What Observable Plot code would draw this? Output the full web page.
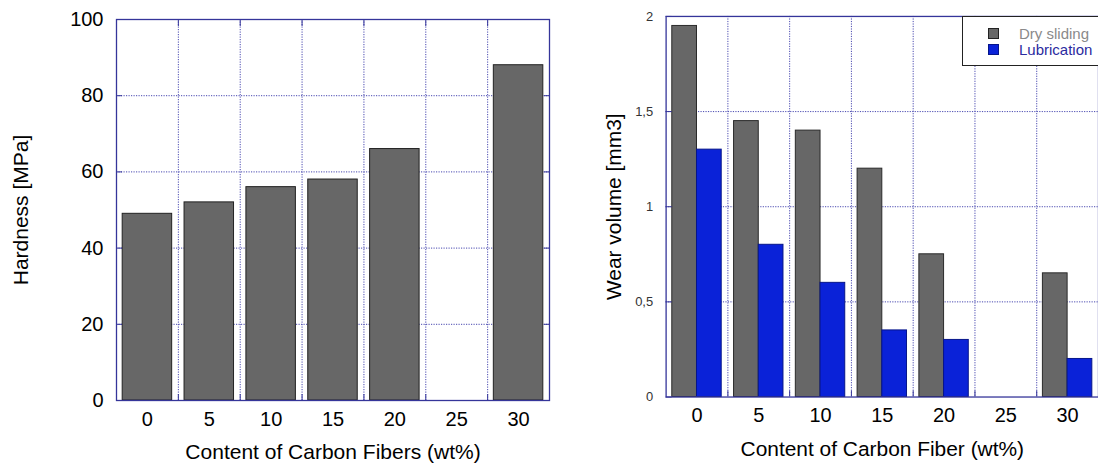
<!DOCTYPE html>
<html>
<head>
<meta charset="utf-8">
<script src="https://cdn.jsdelivr.net/npm/d3@7"></script>
<script src="https://cdn.jsdelivr.net/npm/@observablehq/plot@0.6"></script>
<style>
  html, body { margin: 0; padding: 0; background: #fff; }
  body { width: 1098px; height: 471px; overflow: hidden; position: relative;
         font-family: "Liberation Sans", Arial, sans-serif; }
  #left { position: absolute; left: 0; top: 0; }
  #right { position: absolute; left: 560px; top: 0; }
  #legend { position: absolute; left: 962px; top: 16px; width: 150px; height: 50px;
            box-sizing: border-box; border: 1px solid #222; background: #fff; }
  .item { position: absolute; left: 25px; font-size: 15px; line-height: 15px; }
  .sw { position: absolute; width: 11px; height: 11px; box-sizing: border-box; }
  .lbl { position: absolute; left: 31px; top: -2px; white-space: nowrap; }
</style>
</head>
<body>
<div id="left"></div>
<div id="right"></div>
<div id="legend"></div>
<script>
// ---- data ----
const categories = [0, 5, 10, 15, 20, 25, 30];
const hardness = [49, 52, 56, 58, 66, null, 88];
const drySliding = [1.95, 1.45, 1.40, 1.20, 0.75, null, 0.65];
const lubrication = [1.30, 0.80, 0.60, 0.35, 0.30, null, 0.20];
const hardnessTicks = [0, 20, 40, 60, 80, 100];
const wearTicks = [0, 0.5, 1, 1.5, 2];
const seriesNames = ["Dry sliding", "Lubrication"];

// ---- styles ----
const FONT = "'Liberation Sans', Arial, sans-serif";
const NAVY = "#35359a";
const GRID = "#4848b0";
const GRAY = "#676767";
const BLUE = "#0a22d8";
const STEP = 5;            // spacing of categories
const HALF = STEP / 2;
const BAR = 2;             // half bar width in data units (bar = 80% of band)

const boundaries = categories.slice(1).map(c => c - HALF);
const domainX = [categories[0] - HALF, categories[categories.length - 1] + HALF];

const hardRows = categories.map((c, i) => ({c, v: hardness[i]})).filter(d => d.v != null);
const wearRows = [];
categories.forEach((c, i) => {
  if (drySliding[i] != null) wearRows.push({c, s: seriesNames[0], v: drySliding[i]});
  if (lubrication[i] != null) wearRows.push({c, s: seriesNames[1], v: lubrication[i]});
});

const gridStyle = {stroke: GRID, strokeWidth: 1, strokeDasharray: "1.2,1.3"};

// ---- left chart ----
const left = Plot.plot({
  width: 560, height: 471,
  marginLeft: 116, marginRight: 11, marginTop: 19, marginBottom: 71,
  style: {fontFamily: FONT, fontSize: "20px", color: "#000", background: "transparent", overflow: "visible"},
  x: {domain: domainX},
  y: {domain: [0, 100]},
  marks: [
    Plot.ruleX(boundaries, gridStyle),
    Plot.ruleY(hardnessTicks.slice(1, -1), gridStyle),
    Plot.rectY(hardRows, {x1: d => d.c - BAR, x2: d => d.c + BAR, y: "v", fill: GRAY, stroke: "#222", strokeWidth: 1}),
    Plot.axisX({ticks: categories, tickSize: 0, tickPadding: 11, fontSize: 20, label: null}),
    Plot.axisX({ticks: boundaries, tickSize: -6, tickFormat: () => "", stroke: NAVY, label: null}),
    Plot.axisX({anchor: "top", ticks: boundaries, tickSize: -6, tickFormat: () => "", stroke: NAVY, label: null}),
    Plot.axisY({ticks: hardnessTicks, tickSize: 0, tickPadding: 13, fontSize: 20, label: null}),
    Plot.axisY({ticks: hardnessTicks, tickSize: -6, tickFormat: () => "", stroke: NAVY, label: null}),
    Plot.axisY({anchor: "right", ticks: hardnessTicks, tickSize: -6, tickFormat: () => "", stroke: NAVY, label: null}),
    Plot.text(["Content of Carbon Fibers (wt%)"], {frameAnchor: "bottom", dy: 58, lineAnchor: "bottom", fontSize: 21, fill: "#000"}),
    Plot.text(["Hardness [MPa]"], {frameAnchor: "left", textAnchor: "middle", dx: -95, rotate: -90, fontSize: 21, fill: "#000"}),
    Plot.frame({stroke: NAVY, strokeWidth: 1.3})
  ]
});
document.getElementById("left").append(left);

// ---- right chart ----
const right = Plot.plot({
  width: 540, height: 471,
  marginLeft: 106, marginRight: 0, marginTop: 16, marginBottom: 73,
  style: {fontFamily: FONT, fontSize: "20px", color: "#000", background: "transparent", overflow: "visible"},
  x: {domain: domainX},
  y: {domain: [0, 2]},
  color: {domain: seriesNames, range: [GRAY, BLUE]},
  marks: [
    Plot.ruleX(boundaries, gridStyle),
    Plot.ruleY(wearTicks.slice(1, -1), gridStyle),
    Plot.rectY(wearRows, {
      x1: d => d.s === seriesNames[0] ? d.c - BAR : d.c,
      x2: d => d.s === seriesNames[0] ? d.c : d.c + BAR,
      y: "v", fill: "s",
      stroke: d => d.s === seriesNames[0] ? "#2a2a2a" : "#06158a", strokeWidth: 1
    }),
    Plot.axisX({ticks: categories, tickSize: 0, tickPadding: 11, fontSize: 20, label: null}),
    Plot.axisX({ticks: boundaries, tickSize: -6, tickFormat: () => "", stroke: NAVY, label: null}),
    Plot.axisY({ticks: wearTicks, tickSize: 0, tickPadding: 13, fontSize: 13, fill: "#333",
                tickFormat: d => String(d).replace(".", ","), label: null}),
    Plot.axisY({ticks: wearTicks, tickSize: -6, tickFormat: () => "", stroke: NAVY, label: null}),
    Plot.text(["Content of Carbon Fiber (wt%)"], {frameAnchor: "bottom", dy: 59, lineAnchor: "bottom", fontSize: 21, fill: "#000"}),
    Plot.text(["Wear volume [mm3]"], {frameAnchor: "left", textAnchor: "middle", dx: -52, rotate: -90, fontSize: 21, fill: "#000"}),
    Plot.frame({stroke: NAVY, strokeWidth: 1.3})
  ]
});
document.getElementById("right").append(right);

// ---- legend ----
const legend = document.getElementById("legend");
const textColors = ["#8a8a8a", "#2b2ba0"];
seriesNames.forEach((name, i) => {
  const item = document.createElement("div");
  item.className = "item";
  item.style.top = (11 + i * 16) + "px";
  const sw = document.createElement("div");
  sw.className = "sw";
  sw.style.background = [GRAY, BLUE][i];
  sw.style.border = "1px solid " + ["#222", "#06158a"][i];
  const lbl = document.createElement("div");
  lbl.className = "lbl";
  lbl.textContent = name;
  lbl.style.color = textColors[i];
  item.append(sw, lbl);
  legend.append(item);
});
</script>
</body>
</html>
